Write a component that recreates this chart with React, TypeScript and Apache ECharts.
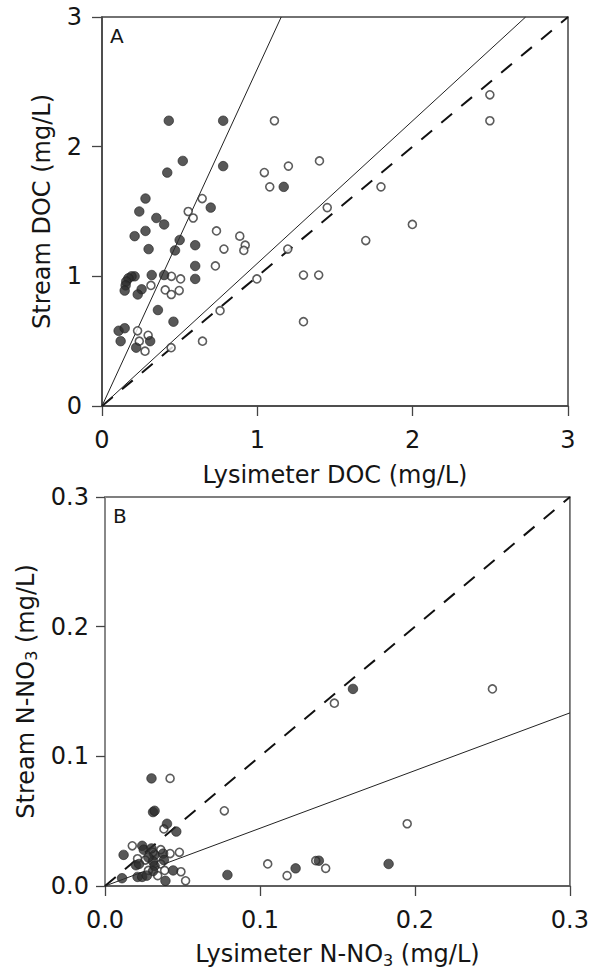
import React, { useEffect, useRef } from "react";
import * as echarts from "echarts";

// Panel A: DOC (mg/L)
const aMin = 0;
const aMax = 3;
const aStep = 1;
const aFilled: number[][] = [
  [0.43, 2.2], [0.78, 2.2], [0.52, 1.89], [0.42, 1.8], [0.78, 1.85], [1.17, 1.69],
  [0.28, 1.6], [0.24, 1.5], [0.35, 1.45], [0.4, 1.4], [0.28, 1.35], [0.21, 1.31],
  [0.5, 1.28], [0.3, 1.21], [0.47, 1.2], [0.6, 1.24], [0.7, 1.53], [0.6, 1.08],
  [0.6, 0.98], [0.32, 1.01], [0.4, 1.01], [0.21, 1.0], [0.19, 1.0], [0.17, 0.985],
  [0.156, 0.96], [0.152, 0.93], [0.146, 0.89], [0.255, 0.9], [0.23, 0.86], [0.36, 0.74],
  [0.46, 0.65], [0.107, 0.58], [0.146, 0.6], [0.12, 0.5], [0.22, 0.45], [0.31, 0.5],
];
const aHollow: number[][] = [
  [1.11, 2.2], [1.045, 1.8], [1.2, 1.85], [1.4, 1.89], [1.08, 1.69], [1.45, 1.53],
  [0.645, 1.6], [0.555, 1.5], [0.587, 1.45], [0.737, 1.35], [0.887, 1.31], [0.922, 1.24],
  [0.913, 1.2], [0.785, 1.21], [0.73, 1.08], [1.196, 1.21], [0.997, 0.98], [1.297, 1.01],
  [1.395, 1.01], [1.297, 0.65], [0.76, 0.735], [0.647, 0.5], [0.445, 0.45], [0.447, 1.0],
  [0.506, 0.98], [0.315, 0.93], [0.407, 0.895], [0.446, 0.86], [0.497, 0.89], [0.229, 0.58],
  [0.297, 0.545], [0.24, 0.5], [0.277, 0.423], [2.497, 2.4], [2.497, 2.2], [1.796, 1.69],
  [1.998, 1.4], [1.698, 1.276],
];
const aSolidSlopes = [2.6, 1.1];

// Panel B: N-NO3 (mg/L)
const bMin = 0;
const bMax = 0.3;
const bStep = 0.1;
const bFilled: number[][] = [
  [0.16, 0.152], [0.03, 0.083], [0.031, 0.057], [0.032, 0.058], [0.04, 0.048], [0.046, 0.042],
  [0.024, 0.031], [0.025, 0.028], [0.012, 0.024], [0.032, 0.024], [0.0375, 0.025], [0.038, 0.02],
  [0.02, 0.016], [0.022, 0.017], [0.031, 0.019], [0.032, 0.0155], [0.031, 0.0115], [0.044, 0.012],
  [0.021, 0.007], [0.024, 0.007], [0.027, 0.008], [0.011, 0.006], [0.039, 0.004], [0.079, 0.0085],
  [0.123, 0.0136], [0.138, 0.0195], [0.183, 0.017], [0.028, 0.022], [0.03, 0.029],
];
const bHollow: number[][] = [
  [0.25, 0.152], [0.148, 0.141], [0.042, 0.083], [0.077, 0.058], [0.038, 0.044], [0.0176, 0.031],
  [0.031, 0.026], [0.036, 0.028], [0.042, 0.025], [0.048, 0.026], [0.021, 0.021], [0.036, 0.017],
  [0.0385, 0.012], [0.049, 0.011], [0.034, 0.008], [0.052, 0.004], [0.105, 0.017], [0.1175, 0.008],
  [0.136, 0.0195], [0.1424, 0.0136], [0.195, 0.048], [0.026, 0.02], [0.028, 0.012],
];
const bSolidSlopes = [0.445];

const FONT = "DejaVu Sans";
const TXT = "#151515";
const AX = "#444";

function throughOrigin(slope: number, max: number): number[][] {
  return slope >= 1 ? [[0, 0], [max / slope, max]] : [[0, 0], [max, max * slope]];
}

function axisBase(grid: number, min: number, max: number, step: number, fmt: (v: number) => string, lineColor: string, lineWidth: number) {
  return {
    gridIndex: grid,
    type: "value" as const,
    min,
    max,
    interval: step,
    splitLine: { show: false },
    axisLine: { show: true, onZero: false, lineStyle: { color: lineColor, width: lineWidth } },
    axisTick: { show: true, inside: false, length: 10, lineStyle: { color: AX, width: 1.3 } },
    axisLabel: { fontSize: 24, color: TXT, fontFamily: FONT, formatter: fmt },
    nameLocation: "middle" as const,
    nameTextStyle: { fontSize: 24, color: TXT, fontFamily: FONT },
  };
}

const filledStyle = { color: "#2e2e2e", borderColor: "#1e1e1e", borderWidth: 0.8 };
const hollowStyle = { color: "#ffffff", borderColor: "#333333", borderWidth: 1.6 };

export default function App() {
  const ref = useRef<HTMLDivElement>(null);
  useEffect(() => {
    if (!ref.current) return;
    const chart = echarts.init(ref.current, undefined, { renderer: "svg" });
    const fA = (v: number) => String(Math.round(v));
    const fB = (v: number) => v.toFixed(1);
    const subRich = {
      sub: { fontSize: 16, fontFamily: FONT, color: TXT, lineHeight: 14, verticalAlign: "bottom" },
    };
    const option: any = {
      animation: false,
      backgroundColor: "#ffffff",
      grid: [
        { left: 102, top: 17, width: 466, height: 389, show: true, borderColor: AX, borderWidth: 1.5, backgroundColor: "transparent" },
        { left: 105, top: 497, width: 467, height: 389, show: true, borderColor: "#555", borderWidth: 1.5, backgroundColor: "transparent" },
      ],
      xAxis: [
        {
          ...axisBase(0, aMin, aMax, aStep, fA, AX, 1.5),
          axisLabel: { fontSize: 24, color: TXT, fontFamily: FONT, formatter: fA, margin: 22 },
          name: "Lysimeter DOC (mg/L)",
          nameGap: 57,
        },
        {
          ...axisBase(1, bMin, bMax, bStep, fB, "#555", 1.5),
          axisLabel: { fontSize: 24, color: TXT, fontFamily: FONT, formatter: fB, margin: 22 },
          name: "Lysimeter N-NO{sub|3} (mg/L)",
          nameGap: 54,
          nameTextStyle: { fontSize: 24, color: TXT, fontFamily: FONT, lineHeight: 28, rich: subRich },
        },
      ],
      yAxis: [
        {
          ...axisBase(0, aMin, aMax, aStep, fA, AX, 1.5),
          axisLabel: { fontSize: 24, color: TXT, fontFamily: FONT, formatter: fA, margin: 20 },
          name: "Stream DOC (mg/L)",
          nameGap: 48,
        },
        {
          ...axisBase(1, bMin, bMax, bStep, fB, "#888", 2),
          axisTick: { show: true, inside: false, length: 9, lineStyle: { color: AX, width: 1.3 } },
          axisLabel: { fontSize: 24, color: TXT, fontFamily: FONT, formatter: fB, margin: 16 },
          name: "Stream N-NO{sub|3} (mg/L)",
          nameGap: 64,
          nameTextStyle: { fontSize: 24, color: TXT, fontFamily: FONT, lineHeight: 28, rich: subRich },
        },
      ],
      graphic: [
        { type: "text", left: 110, top: 26, style: { text: "A", fontSize: 20, fontFamily: FONT, fill: TXT } },
        { type: "text", left: 113, top: 506, style: { text: "B", fontSize: 20, fontFamily: FONT, fill: TXT } },
      ],
      series: [
        // Panel A lines
        {
          type: "line", xAxisIndex: 0, yAxisIndex: 0, data: [[aMin, aMin], [aMax, aMax]],
          showSymbol: false, silent: true, z: 2,
          lineStyle: { color: "#111", width: 2, type: [14, 12] },
        },
        ...aSolidSlopes.map((s) => ({
          type: "line", xAxisIndex: 0, yAxisIndex: 0, data: throughOrigin(s, aMax),
          showSymbol: false, silent: true, z: 2,
          lineStyle: { color: "#222", width: 1 },
        })),
        {
          type: "scatter", xAxisIndex: 0, yAxisIndex: 0, data: aHollow, symbol: "circle",
          symbolSize: 8, itemStyle: hollowStyle, z: 3,
        },
        {
          type: "scatter", xAxisIndex: 0, yAxisIndex: 0, data: aFilled, symbol: "circle",
          symbolSize: 9.5, itemStyle: filledStyle, z: 4,
        },
        // Panel B lines
        {
          type: "line", xAxisIndex: 1, yAxisIndex: 1, data: [[bMin, bMin], [bMax, bMax]],
          showSymbol: false, silent: true, z: 2,
          lineStyle: { color: "#111", width: 2, type: [14, 12] },
        },
        ...bSolidSlopes.map((s) => ({
          type: "line", xAxisIndex: 1, yAxisIndex: 1, data: throughOrigin(s, bMax),
          showSymbol: false, silent: true, z: 2,
          lineStyle: { color: "#222", width: 1 },
        })),
        {
          type: "scatter", xAxisIndex: 1, yAxisIndex: 1, data: bHollow, symbol: "circle",
          symbolSize: 8, itemStyle: hollowStyle, z: 3,
        },
        {
          type: "scatter", xAxisIndex: 1, yAxisIndex: 1, data: bFilled, symbol: "circle",
          symbolSize: 9.5, itemStyle: filledStyle, z: 4,
        },
      ],
    };
    chart.setOption(option);
    return () => chart.dispose();
  }, []);
  return (
    <div
      ref={ref}
      style={{ position: "fixed", left: 0, top: 0, width: 592, height: 971, background: "#fff" }}
    />
  );
}
